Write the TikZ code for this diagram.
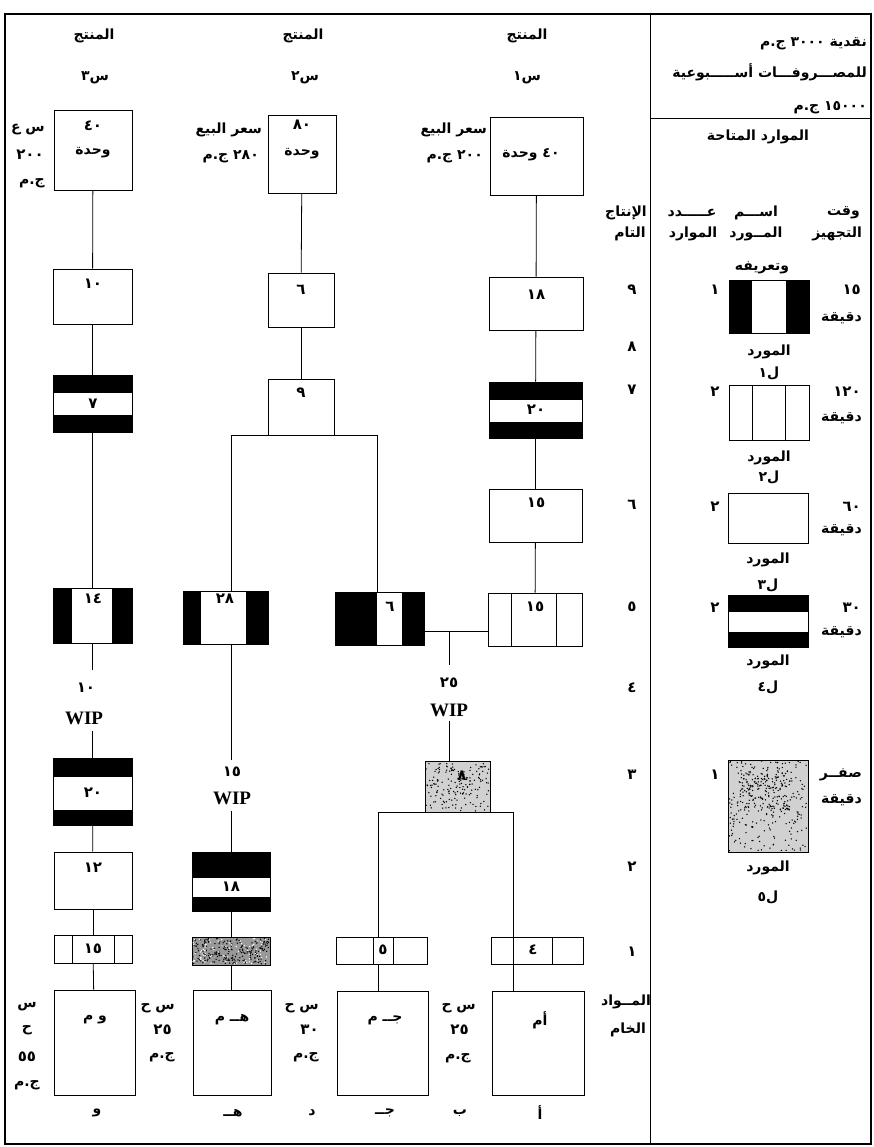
\documentclass[tikz,border=0pt]{standalone}
\usepackage{fontspec}
\usetikzlibrary{calc}
\TeXXeTstate=1
\newfontfamily\arabicfont[Script=Arabic]{DejaVu Sans}
\newfontfamily\wipfont{Liberation Serif}
\newcommand\AR[1]{\beginR#1\endR}
\newcommand\LN[1]{\beginL#1\endL{}}
\newcommand\speckle[6]{\foreach \k in {1,...,#5}{\fill[#6] ({#1+#3*rnd},{#2+#4*rnd}) circle (0.75pt);}}
\tikzset{
  ar/.style={font=\arabicfont\bfseries\fontsize{14}{16}\selectfont, inner sep=1pt},
  num/.style={font=\arabicfont\bfseries\fontsize{15}{17}\selectfont, inner sep=1pt},
  wipw/.style={font=\wipfont\bfseries\fontsize{19}{21}\selectfont, inner sep=1pt},
  conn/.style={line width=0.8pt},
  bx/.style 2 args={draw, line width=0.9pt, inner sep=0pt, minimum width=#1, minimum height=#2},
  vstrips/.style 2 args={path picture={
    \fill (path picture bounding box.south west) rectangle ($(path picture bounding box.north west)!#1!(path picture bounding box.north east)$);
    \fill ($(path picture bounding box.south west)!#2!(path picture bounding box.south east)$) rectangle (path picture bounding box.north east);}},
  hstrips/.style 2 args={path picture={
    \fill (path picture bounding box.north west) rectangle ($(path picture bounding box.north east)!#1!(path picture bounding box.south east)$);
    \fill ($(path picture bounding box.north west)!#2!(path picture bounding box.south west)$) rectangle (path picture bounding box.south east);}},
  vlines/.style 2 args={path picture={
    \draw[line width=0.8pt] ($(path picture bounding box.north west)!#1!(path picture bounding box.north east)$) -- ($(path picture bounding box.south west)!#1!(path picture bounding box.south east)$);
    \draw[line width=0.8pt] ($(path picture bounding box.north west)!#2!(path picture bounding box.north east)$) -- ($(path picture bounding box.south west)!#2!(path picture bounding box.south east)$);}},
  noise/.style={fill=black!18},
  noisedark/.style={fill=black!40},
}
\begin{document}
\begin{tikzpicture}[x=1pt,y=-1pt]
\pgfmathsetseed{11}
\useasboundingbox (0,0) rectangle (873,1147);
\fill[white] (0,0) rectangle (873,1147);
\draw[line width=2pt] (5,14) rectangle (871,1144);
\draw[conn] (650,14) -- (650,1144);
\draw[conn] (650,118) -- (871,118);

% ---------- right panel header ----------
\node[ar, anchor=east] (hd1) at (868,44) {\AR{نقدية \LN{٣٠٠٠} ج.م}};
\node[ar, anchor=east] (hd2) at (868,72) {\AR{للمصـــروفـــات أســـــبوعية}};
\node[ar, anchor=east] (hd3) at (868,108) {\AR{\LN{١٥٠٠٠} ج.م}};
\node[ar] (hd4) at (758,137) {\AR{الموارد المتاحة}};

\node[ar, anchor=east] (ch1a) at (861,213) {\AR{وقت}};
\node[ar, anchor=east] (ch1b) at (863,234) {\AR{التجهيز}};
\node[ar] (ch2a) at (756,213) {\AR{اســـم}};
\node[ar] (ch2b) at (756,234) {\AR{المــورد}};
\node[ar] (ch2c) at (762,268) {\AR{وتعريفه}};
\node[ar] (ch3a) at (692,213) {\AR{عـــــدد}};
\node[ar] (ch3b) at (693,234) {\AR{الموارد}};
\node[ar] (ch4a) at (626,213) {\AR{الإنتاج}};
\node[ar] (ch4b) at (630,234) {\AR{التام}};

\foreach \v/\yy [count=\i] in {٩/290, ٨/347, ٧/390, ٦/505, ٥/607, ٤/688, ٣/775, ٢/867, ١/952}
  \node[num] (lv\i) at (632,\yy) {\v};
\node[ar] (lvA) at (626,1002) {\AR{المــواد}};
\node[ar] (lvB) at (628,1030) {\AR{الخام}};

% ---------- resources ----------
\node[bx={80pt}{53pt}, vstrips={0.29}{0.71}] (L1) at (769,306.5) {};
\node[num] (L1n) at (715,290) {١};
\node[num, anchor=east] (L1t) at (862,290) {١٥};
\node[ar, anchor=east] (L1d) at (863,318) {\AR{دقيقة}};
\node[ar] (L1a) at (769,352) {\AR{المورد}};
\node[ar] (L1b) at (769,373) {\mbox{١}\mbox{ل}};

\node[bx={80pt}{55pt}, vlines={0.29}{0.71}] (L2) at (769,412.5) {};
\node[num] (L2n) at (715,392) {٢};
\node[num, anchor=east] (L2t) at (862,392) {١٢٠};
\node[ar, anchor=east] (L2d) at (863,418) {\AR{دقيقة}};
\node[ar] (L2a) at (769,458) {\AR{المورد}};
\node[ar] (L2b) at (769,477) {\mbox{٢}\mbox{ل}};

\node[bx={80pt}{50pt}] (L3) at (768,518) {};
\node[num] (L3n) at (715,507) {٢};
\node[num, anchor=east] (L3t) at (862,507) {٦٠};
\node[ar, anchor=east] (L3d) at (863,530) {\AR{دقيقة}};
\node[ar] (L3a) at (768,560) {\AR{المورد}};
\node[ar] (L3b) at (768,585) {\mbox{٣}\mbox{ل}};

\node[bx={80pt}{52pt}, hstrips={0.33}{0.71}] (L4) at (768,621) {};
\node[num] (L4n) at (715,608) {٢};
\node[num, anchor=east] (L4t) at (862,608) {٣٠};
\node[ar, anchor=east] (L4d) at (863,632) {\AR{دقيقة}};
\node[ar] (L4a) at (768,662) {\AR{المورد}};
\node[ar] (L4b) at (768,687) {\mbox{٤}\mbox{ل}};

\node[bx={80pt}{92pt}, noise] (L5) at (768,806) {};
\speckle{729}{761}{78}{90}{260}{black}
\speckle{740}{770}{50}{40}{120}{black}
\node[num] (L5n) at (715,775) {١};
\node[ar, anchor=east] (L5t) at (863,775) {\AR{صفــر}};
\node[ar, anchor=east] (L5d) at (863,800) {\AR{دقيقة}};
\node[ar] (L5a) at (768,868) {\AR{المورد}};
\node[ar] (L5b) at (768,897) {\mbox{٥}\mbox{ل}};

% ---------- product headers ----------
\node[ar] (h3a) at (94,36) {\AR{المنتج}};
\node[ar] (h3b) at (95,78) {\mbox{٣}\mbox{س}};
\node[ar] (h2a) at (303,36) {\AR{المنتج}};
\node[ar] (h2b) at (305,78) {\mbox{٢}\mbox{س}};
\node[ar] (h1a) at (527,36) {\AR{المنتج}};
\node[ar] (h1b) at (527,78) {\mbox{١}\mbox{س}};

% ---------- column S3 ----------
\node[bx={78pt}{80pt}] (s3top) at (93,150) {};
\node[num] (s3topA) at (93,126) {٤٠};
\node[ar] (s3topB) at (93,153) {\AR{وحدة}};
\node[ar, anchor=east] (s3l1) at (46,130) {\AR{س ع}};
\node[num, anchor=east] (s3l2) at (45,155) {٢٠٠};
\node[ar, anchor=east] (s3l3) at (46,183) {\AR{ج.م}};

\node[bx={79pt}{55pt}] (s3a) at (92.5,296.5) {};
\node[num] (s3aT) at (93,284) {١٠};
\node[bx={79pt}{57pt}, hstrips={0.32}{0.70}] (s3b) at (92.5,403.5) {};
\node[num] (s3bT) at (93,404) {٧};
\node[bx={79pt}{55pt}, vstrips={0.24}{0.75}] (s3c) at (92.5,615.5) {};
\node[num] (s3cT) at (93,599) {١٤};
\node[num] (w3n) at (86,688) {١٠};
\node[wipw] (w3w) at (84,718) {WIP};
\node[bx={79pt}{67pt}, hstrips={0.28}{0.78}] (s3d) at (92.5,791.5) {};
\node[num] (s3dT) at (93,793) {٢٠};
\node[bx={78pt}{57pt}] (s3e) at (93,880.5) {};
\node[num] (s3eT) at (93,868) {١٢};
\node[bx={78pt}{28pt}, vlines={0.24}{0.78}] (s3f) at (93,949) {};
\node[num] (s3fT) at (93,949) {١٥};
\node[bx={81pt}{105pt}] (s3raw) at (94.5,1042.5) {};
\node[ar] (s3rawT) at (95,1020) {\AR{و م}};
\node[ar] (s3r1) at (27,1007) {\AR{س}};
\node[ar] (s3r2) at (27,1030) {\AR{ح}};
\node[num] (s3r3) at (27,1057) {٥٥};
\node[ar] (s3r4) at (27,1085) {\AR{ج.م}};
\node[ar] (bW) at (97,1113) {\AR{و}};

\draw[conn] (s3top) -- (s3a);
\draw[conn] (s3a) -- (s3b);
\draw[conn] (s3b) -- (s3c);
\draw[conn] (s3c.south) -- ([yshift=12pt]s3c.south |- w3n.north);
\draw[conn] ([yshift=-5pt]s3d.north |- w3w.south) -- (s3d.north);
\draw[conn] (s3d) -- (s3e);
\draw[conn] (s3e) -- (s3f);
\draw[conn] (s3f) -- (s3raw);

% ---------- column S2 ----------
\coordinate (cx2) at (231,0);
\coordinate (cxE) at (377,0);
\node[bx={68pt}{78pt}] (s2top) at (302,154) {};
\node[num] (s2topA) at (302,125) {٨٠};
\node[ar] (s2topB) at (302,154) {\AR{وحدة}};
\node[ar, anchor=east] (s2l1) at (263,130) {\AR{سعر البيع}};
\node[ar, anchor=east] (s2l2) at (260,157) {\AR{\LN{٢٨٠} ج.م}};

\node[bx={66pt}{54pt}] (s2a) at (301,300) {};
\node[num] (s2aT) at (301,290) {٦};
\node[bx={66pt}{56pt}] (s2b) at (301,407) {};
\node[num] (s2bT) at (301,393) {٩};
\node[bx={85pt}{53pt}, vstrips={0.21}{0.74}] (s2c) at (225.5,617.5) {};
\node[num] (s2cT) at (225,599) {٢٨};
\node[num] (w2n) at (232,772) {١٥};
\node[wipw] (w2w) at (232,798) {WIP};
\node[bx={78pt}{59pt}, hstrips={0.44}{0.76}] (s2d) at (231,881.5) {};
\node[num] (s2dT) at (231,887) {١٨};
\node[bx={78pt}{28pt}, noisedark] (s2e) at (231,951) {};
\speckle{193}{938}{76}{26}{220}{black}
\speckle{193}{938}{76}{26}{80}{white}
\node[bx={78pt}{105pt}] (s2raw) at (232,1042.5) {};
\node[ar] (s2rawT) at (232,1020) {\AR{هــ م}};
\node[ar, anchor=east] (s2r1) at (176,1008) {\AR{س ح}};
\node[num, anchor=east] (s2r2) at (173,1030) {٢٥};
\node[ar, anchor=east] (s2r3) at (176,1057) {\AR{ج.م}};
\node[ar] (bH) at (233,1113) {\AR{هــ}};
\node[ar, anchor=east] (sDr1) at (320,1008) {\AR{س ح}};
\node[num, anchor=east] (sDr2) at (320,1030) {٣٠};
\node[ar, anchor=east] (sDr3) at (320,1057) {\AR{ج.م}};
\node[ar] (bD) at (312,1113) {\AR{د}};

% ---------- column S1 ----------
\coordinate (cxL) at (378,0);
\coordinate (cxR) at (513,0);
\coordinate (j1) at (449,631);
\node[bx={93pt}{78pt}] (s1top) at (536.5,156) {};
\node[ar] (s1topT) at (531,155) {\AR{\LN{٤٠} وحدة}};
\node[ar, anchor=east] (s1l1) at (488,130) {\AR{سعر البيع}};
\node[ar, anchor=east] (s1l2) at (484,157) {\AR{\LN{٢٠٠} ج.م}};

\node[bx={94pt}{53pt}] (s1a) at (536,303.5) {};
\node[num] (s1aT) at (536,295) {١٨};
\node[bx={93pt}{56pt}, hstrips={0.32}{0.71}] (s1b) at (535.5,410) {};
\node[num] (s1bT) at (536,410) {٢٠};
\node[bx={93pt}{53pt}] (s1c) at (535.5,515.5) {};
\node[num] (s1cT) at (536,503) {١٥};
\node[bx={94pt}{53pt}, vlines={0.245}{0.73}] (s1d) at (535,619.5) {};
\node[num] (s1dT) at (535,607) {١٥};
\node[bx={89pt}{53pt}, vstrips={0.47}{0.75}] (s1e) at (379.5,618.5) {};
\node[num] (s1eT) at (390,607) {٦};
\node[num] (w1n) at (449,683) {٢٥};
\node[wipw] (w1w) at (449,710) {WIP};
\node[bx={65pt}{51pt}, noise] (s1f) at (457.5,786.5) {};
\speckle{426}{762}{63}{49}{170}{black}
\node[num] (s1fT) at (462,776) {٨};
\node[bx={91pt}{27pt}, vlines={0.41}{0.63}] (s1g) at (381.5,950.5) {};
\node[num] (s1gT) at (383,950) {٥};
\node[bx={92pt}{27pt}, vlines={0.24}{0.67}] (s1h) at (537,950.5) {};
\node[num] (s1hT) at (533,950) {٤};
\node[bx={91pt}{104pt}] (s1raw1) at (382.5,1043) {};
\node[ar] (s1raw1T) at (385,1020) {\AR{جــ م}};
\node[bx={92pt}{104pt}] (s1raw2) at (538,1043) {};
\node[ar] (s1raw2T) at (540,1020) {\AR{أم}};
\node[ar, anchor=east] (sBr1) at (477,1008) {\AR{س ح}};
\node[num, anchor=east] (sBr2) at (470,1030) {٢٥};
\node[ar, anchor=east] (sBr3) at (472,1058) {\AR{ج.م}};
\node[ar] (bJ) at (385,1113) {\AR{جــ}};
\node[ar] (bB) at (460,1113) {\AR{ب}};
\node[ar] (bA) at (540,1113) {\AR{أ}};

% ---------- S2 connectors ----------
\draw[conn] (s2top) -- (s2a);
\draw[conn] (s2a) -- (s2b);
\draw[conn] (cx2 |- s2c.north) |- (cxE |- s2b.south) -- (cxE |- s1e.north);
\draw[conn] (cx2 |- s2c.south) -- ([yshift=6pt]cx2 |- w2n.north);
\draw[conn] ([yshift=-5pt]cx2 |- w2w.south) -- (cx2 |- s2d.north);
\draw[conn] (cx2 |- s2d.south) -- (cx2 |- s2e.north);
\draw[conn] (cx2 |- s2e.south) -- (cx2 |- s2raw.north);

% ---------- S1 connectors ----------
\draw[conn] (s1top) -- (s1a);
\draw[conn] (s1a) -- (s1b);
\draw[conn] (s1b) -- (s1c);
\draw[conn] (s1c) -- (s1d);
\draw[conn] (s1e.east |- j1) -- (s1d.west |- j1);
\draw[conn] (j1) -- ([yshift=12pt]j1 |- w1n.north);
\draw[conn] ([yshift=-3pt]j1 |- w1w.south) -- (j1 |- s1f.north);
\draw[conn] (cxL |- s1g.north) |- (cxR |- s1f.south) -- (cxR |- s1h.north);
\draw[conn] (cxL |- s1g.south) -- (cxL |- s1raw1.north);
\draw[conn] (cxR |- s1h.south) -- (cxR |- s1raw2.north);
\end{tikzpicture}
\end{document}
